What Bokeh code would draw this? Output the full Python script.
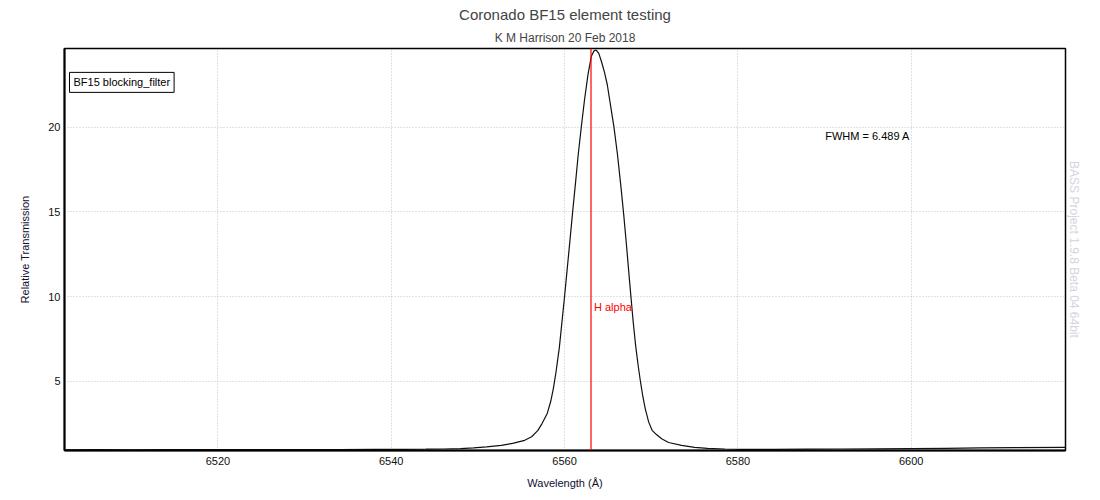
from bokeh.plotting import figure
from bokeh.models import Span, Label, Title, FixedTicker, Range1d
from bokeh.embed import file_html
from bokeh.resources import INLINE

# Data
wavelength = [6502.3, 6506, 6510, 6514, 6518, 6522, 6526, 6530, 6534, 6538, 6541, 6544,
              6546, 6548, 6549.5, 6551, 6552.7, 6554, 6555.4, 6556.2, 6556.9, 6557.4,
              6558.0, 6558.4, 6558.7, 6559.0, 6559.4, 6559.7, 6560.0, 6560.3, 6560.62,
              6560.97, 6561.3, 6561.6, 6561.93, 6562.3, 6562.7, 6563.1, 6563.4, 6563.65,
              6563.95, 6564.3, 6564.6, 6564.93, 6565.3, 6565.7, 6566.1, 6566.5, 6566.85,
              6567.15, 6567.4, 6567.62, 6567.9, 6568.2, 6568.5, 6568.75, 6569.0, 6569.3,
              6569.7, 6570.1, 6570.6, 6571.2, 6572.0, 6573.5, 6575.0, 6576.5, 6578.5,
              6580.4, 6584, 6588, 6592, 6596, 6600, 6604, 6608, 6612, 6617.8]
transmission = [0.95, 0.96, 0.95, 0.96, 0.97, 0.96, 0.97, 0.97, 0.97, 0.98, 0.98, 0.99,
                1.00, 1.02, 1.06, 1.12, 1.21, 1.33, 1.51, 1.72, 2.08, 2.50,
                3.10, 3.80, 4.55, 5.5, 7.0, 8.5, 10.0, 11.6, 13.3,
                15.2, 16.9, 18.5, 20.0, 21.6, 23.1, 24.2, 24.5, 24.55,
                24.35, 23.8, 23.25, 22.5, 21.3, 20.0, 18.4, 16.5, 14.7,
                13.0, 11.5, 10.2, 8.6, 7.1, 5.9, 5.0, 4.2, 3.4,
                2.6, 2.1, 1.85, 1.6, 1.38, 1.21, 1.10, 1.03, 1.00,
                0.98, 0.98, 0.99, 1.00, 1.01, 1.02, 1.04, 1.06, 1.08, 1.10]
h_alpha = 6563.05
x_ticks = [6520, 6540, 6560, 6580, 6600]
y_ticks = [5, 10, 15, 20]
fwhm_text = "FWHM = 6.489 A"
legend_text = "BF15 blocking_filter"

FONT = "Liberation Sans"

p = figure(width=1098, height=492, output_backend="svg", toolbar_location=None,
           x_range=Range1d(6502.3, 6617.8), y_range=Range1d(0.91, 24.64),
           min_border_left=64, min_border_right=33, min_border_top=48, min_border_bottom=42)

p.add_layout(Title(text="K M Harrison 20 Feb 2018", align="center", text_font=FONT,
                   text_font_size="12px", text_font_style="normal", standoff=8), "above")
p.add_layout(Title(text="Coronado BF15 element testing", align="center", text_font=FONT,
                   text_font_size="15px", text_font_style="normal", standoff=3), "above")
p.add_layout(Title(text="BASS Project 1.9.8 Beta 04 64bit", align="center", text_font=FONT,
                   text_font_size="12px", text_font_style="normal", text_color="#d4d4de",
                   standoff=3), "right")

p.line(wavelength, transmission, line_color="#111111", line_width=1.2)

p.add_layout(Span(location=h_alpha, dimension="height", line_color="#ff0000", line_width=1.2))

p.add_layout(Label(x=h_alpha, y=9.38, text="H alpha", x_offset=3, text_color="#ff0000",
                   text_font=FONT, text_font_size="11px", text_baseline="middle"))
p.add_layout(Label(x=6590.08, y=19.45, text=fwhm_text, text_color="black",
                   text_font=FONT, text_font_size="11px", text_baseline="middle"))
p.add_layout(Label(x=6502.3, y=22.64, text=legend_text, x_offset=5, text_color="black",
                   text_font=FONT, text_font_size="11px", text_baseline="middle",
                   border_line_color="black", border_line_width=1,
                   background_fill_color="white", padding=4))

p.xaxis.ticker = FixedTicker(ticks=x_ticks)
p.yaxis.ticker = FixedTicker(ticks=y_ticks)
p.xaxis.axis_label = "Wavelength (Å)"
p.yaxis.axis_label = "Relative Transmission"
for ax in (p.xaxis, p.yaxis):
    ax.axis_label_text_font = FONT
    ax.axis_label_text_font_size = "11px"
    ax.axis_label_text_font_style = "normal"
    ax.axis_label_text_color = "#101030"
    ax.major_label_text_font = FONT
    ax.major_label_text_font_size = "11px"
    ax.major_label_text_color = "#101010"
    ax.major_tick_line_color = None
    ax.minor_tick_line_color = None
    ax.major_tick_out = 0
    ax.major_tick_in = 0
    ax.minor_tick_out = 0
    ax.minor_tick_in = 0
    ax.axis_line_color = "black"
    ax.axis_line_width = 2
p.xaxis.major_label_standoff = 6
p.yaxis.major_label_standoff = 4
p.xaxis.axis_label_standoff = 9
p.yaxis.axis_label_standoff = 14

p.xgrid.ticker = FixedTicker(ticks=x_ticks)
p.ygrid.ticker = FixedTicker(ticks=y_ticks)
p.grid.grid_line_color = "#c4c4c4"
p.grid.grid_line_dash = "1 2"
p.grid.grid_line_width = 1

p.outline_line_color = "black"
p.outline_line_width = 1.5
p.background_fill_color = "white"
p.border_fill_color = "white"

open("out.html", "w").write(file_html(p, INLINE))
